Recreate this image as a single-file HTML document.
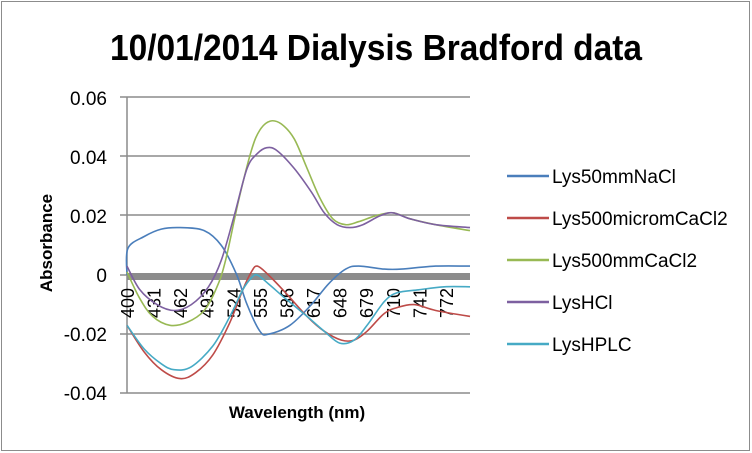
<!DOCTYPE html>
<html><head><meta charset="utf-8"><style>
html,body{margin:0;padding:0;background:#fff;}
svg{display:block;font-family:"Liberation Sans",sans-serif;}
</style></head><body>
<svg id="s" width="752" height="453" xmlns="http://www.w3.org/2000/svg">
<rect x="1.5" y="1.5" width="748" height="449" fill="#fff" stroke="#8c8c8c" stroke-width="1"/>
<text x="376" y="60" text-anchor="middle" font-size="36" font-weight="bold" textLength="532" lengthAdjust="spacingAndGlyphs">10/01/2014 Dialysis Bradford data</text>
<g stroke="#8c8c8c" stroke-width="1.5">
<line x1="120" y1="97" x2="470" y2="97"/>
<line x1="120" y1="156" x2="470" y2="156"/>
<line x1="120" y1="215" x2="470" y2="215"/>
<line x1="120" y1="334" x2="470" y2="334"/>
<line x1="120" y1="393" x2="470" y2="393"/>
<line x1="120" y1="275" x2="127" y2="275"/>
<line x1="127" y1="97" x2="127" y2="393"/>
</g>
<rect x="127" y="273" width="343" height="7" fill="#8c8c8c"/>
<g font-size="19" text-anchor="end">
<text x="107" y="105">0.06</text>
<text x="107" y="164">0.04</text>
<text x="107" y="223">0.02</text>
<text x="107" y="282">0</text>
<text x="107" y="341">-0.02</text>
<text x="107" y="400">-0.04</text>
</g>
<text transform="translate(52,243) rotate(-90)" text-anchor="middle" font-size="17" font-weight="bold">Absorbance</text>
<text x="297" y="418" text-anchor="middle" font-size="17" font-weight="bold">Wavelength (nm)</text>
<g id="xl" font-size="18"></g>
<g id="curves" fill="none" stroke-width="1.6" stroke-linejoin="round"></g>
<g stroke-width="2.5">
<line x1="507" y1="176" x2="549" y2="176" stroke="#4a7ebb"/>
<line x1="507" y1="218" x2="549" y2="218" stroke="#be4b48"/>
<line x1="507" y1="260" x2="549" y2="260" stroke="#98b954"/>
<line x1="507" y1="302" x2="549" y2="302" stroke="#7d60a0"/>
<line x1="507" y1="344" x2="549" y2="344" stroke="#46aac5"/>
</g>
<g font-size="19">
<text x="552" y="183">Lys50mmNaCl</text>
<text x="552" y="225">Lys500micromCaCl2</text>
<text x="552" y="267">Lys500mmCaCl2</text>
<text x="552" y="309">LysHCl</text>
<text x="552" y="351">LysHPLC</text>
</g>
</svg>
<script>
var NS="http://www.w3.org/2000/svg";
function X(nm){return 127+(nm-400)*0.8575;}
function Y(a){return 275-a*2960;}
var xl=document.getElementById('xl');
for(var i=0;i<13;i++){var nm=400+31*i;var t=document.createElementNS(NS,'text');
var x=X(nm)+7;t.setAttribute('transform','translate('+x+',318) rotate(-90)');t.textContent=nm;xl.appendChild(t);}
var series=[
["#4a7ebb",[[400,0],[401,0.009],[420,0.013],[440,0.0155],[462,0.016],[490,0.015],[510,0.010],[528,0],[540,-0.01],[555,-0.019],[565,-0.020],[590,-0.017],[615,-0.01],[635,-0.003],[655,0.002],[670,0.003],[700,0.002],[720,0.002],[760,0.003],[800,0.003]]],
["#be4b48",[[400,-0.017],[420,-0.026],[440,-0.032],[462,-0.035],[480,-0.033],[500,-0.027],[520,-0.016],[535,-0.005],[545,0.001],[552,0.003],[565,0.0],[585,-0.006],[610,-0.014],[630,-0.019],[650,-0.022],[665,-0.022],[680,-0.019],[700,-0.013],[715,-0.011],[735,-0.010],[760,-0.012],[800,-0.014]]],
["#46aac5",[[400,-0.017],[420,-0.025],[440,-0.030],[455,-0.032],[475,-0.031],[500,-0.024],[520,-0.014],[535,-0.005],[545,-0.001],[552,0.0],[565,-0.003],[585,-0.008],[610,-0.014],[630,-0.019],[648,-0.023],[665,-0.022],[680,-0.017],[700,-0.009],[715,-0.006],[740,-0.005],[770,-0.004],[800,-0.004]]],
["#98b954",[[400,0.001],[415,-0.008],[430,-0.014],[450,-0.017],[470,-0.016],[490,-0.012],[505,-0.004],[515,0.005],[530,0.025],[545,0.042],[555,0.049],[567,0.052],[580,0.051],[595,0.046],[610,0.036],[625,0.026],[640,0.019],[655,0.017],[670,0.018],[690,0.020],[710,0.021],[730,0.019],[760,0.017],[800,0.015]]],
["#7d60a0",[[400,0.003],[415,-0.005],[435,-0.010],[455,-0.012],[475,-0.010],[495,-0.004],[510,0.005],[525,0.020],[540,0.036],[552,0.041],[563,0.043],[575,0.042],[595,0.036],[615,0.028],[630,0.021],[645,0.017],[660,0.016],[675,0.017],[695,0.020],[710,0.021],[730,0.019],[760,0.017],[800,0.016]]]
];
var g=document.getElementById('curves');
series.forEach(function(s){var p=s[1].map(function(q){return [X(q[0]),Y(q[1])];});
var d="M"+p[0][0].toFixed(1)+","+p[0][1].toFixed(1);
for(var i=0;i<p.length-1;i++){var p0=p[Math.max(0,i-1)],p1=p[i],p2=p[i+1],p3=p[Math.min(p.length-1,i+2)];
var c1=[p1[0]+(p2[0]-p0[0])/6,p1[1]+(p2[1]-p0[1])/6],c2=[p2[0]-(p3[0]-p1[0])/6,p2[1]-(p3[1]-p1[1])/6];
d+=" C"+c1[0].toFixed(1)+","+c1[1].toFixed(1)+" "+c2[0].toFixed(1)+","+c2[1].toFixed(1)+" "+p2[0].toFixed(1)+","+p2[1].toFixed(1);}
var e=document.createElementNS(NS,'path');e.setAttribute('d',d);e.setAttribute('stroke',s[0]);g.appendChild(e);});
</script>
</body></html>
